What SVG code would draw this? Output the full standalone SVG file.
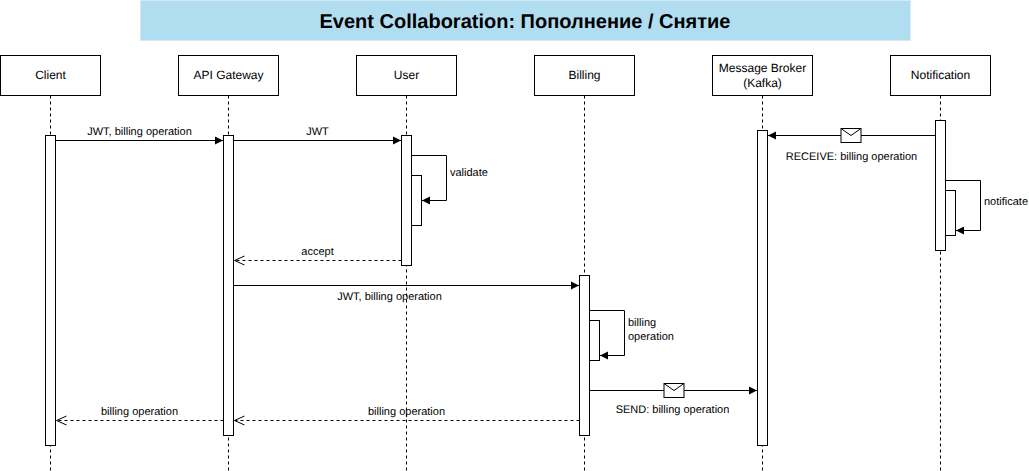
<svg xmlns="http://www.w3.org/2000/svg" width="1029" height="471" viewBox="0 0 1029 471">
<style>
text{font-family:"Liberation Sans",Arial,sans-serif;fill:#000;text-rendering:geometricPrecision}
.n{font-size:12px;text-anchor:middle}
.l{font-size:11px;text-anchor:middle}
.ls{font-size:11px;text-anchor:start}
.b{fill:#fff;stroke:#000;stroke-width:1}
.life{fill:none;stroke:#000;stroke-width:1;stroke-dasharray:3 3}
.m{fill:none;stroke:#000;stroke-width:1;marker-end:url(#block)}
.r{fill:none;stroke:#000;stroke-width:1;stroke-dasharray:3 3;marker-end:url(#open)}
.env{fill:#fff;stroke:#000;stroke-width:1}
</style>
<defs>
<marker id="block" markerUnits="userSpaceOnUse" viewBox="0 0 9 9" refX="9" refY="4.500" markerWidth="9" markerHeight="9" orient="auto"><path d="M0.500 0.500L8.500 4.500L0.500 8.500Z" fill="#000"/></marker>
<marker id="open" markerUnits="userSpaceOnUse" viewBox="0 0 13 12" refX="12" refY="6" markerWidth="13" markerHeight="12" orient="auto"><path d="M1 1.500L11 6L1 10.500" fill="none" stroke="#000" stroke-width="1"/></marker>
</defs>
<g id="title"><rect x="140.500" y="0.500" width="770" height="40" fill="#b1ddf0" stroke="#d4ebf6"/><text x="525" y="28" font-size="20" font-weight="bold" text-anchor="middle">Event Collaboration: Пополнение / Снятие</text></g>
<g id="lifelines">
<path class="life" d="M50.500 95.500V470.500"/><path class="life" d="M228.500 95.500V470.500"/><path class="life" d="M406.500 95.500V470.500"/><path class="life" d="M584.500 95.500V470.500"/><path class="life" d="M762.500 95.500V470.500"/><path class="life" d="M940.500 95.500V470.500"/>
</g>
<g id="client"><rect class="b" x="0.500" y="55.500" width="100" height="40"/><text class="n" x="50.500" y="79">Client</text><rect class="b" x="45.500" y="135.500" width="10" height="310"/></g>
<g id="api-gateway"><rect class="b" x="178.500" y="55.500" width="100" height="40"/><text class="n" x="228.500" y="79">API Gateway</text><rect class="b" x="223.500" y="135.500" width="10" height="300"/></g>
<g id="user"><rect class="b" x="356.500" y="55.500" width="100" height="40"/><text class="n" x="406.500" y="79">User</text><rect class="b" x="401.500" y="135.500" width="10" height="130"/><rect class="b" x="411.500" y="175.500" width="10" height="50"/></g>
<g id="billing"><rect class="b" x="534.500" y="55.500" width="100" height="40"/><text class="n" x="584.500" y="79">Billing</text><rect class="b" x="579.500" y="275.500" width="10" height="160"/><rect class="b" x="589.500" y="320.500" width="10" height="40"/></g>
<g id="message-broker"><rect class="b" x="712.500" y="55.500" width="100" height="40"/><text class="n" x="762.500" y="72">Message Broker</text><text class="n" x="762.500" y="87">(Kafka)</text><rect class="b" x="757.500" y="130.500" width="10" height="315"/></g>
<g id="notification"><rect class="b" x="890.500" y="55.500" width="100" height="40"/><text class="n" x="940.500" y="79">Notification</text><rect class="b" x="935.500" y="120.500" width="10" height="130"/><rect class="b" x="945.500" y="190.500" width="10" height="45"/></g>
<g id="connectors">
<path class="m" d="M55.500 140.500H223.500"/>
<path class="m" d="M233.500 140.500H401.500"/>
<path class="m" d="M411.500 155.500H446.500V200.500H421.500"/>
<path class="r" d="M401.500 260.500H233.500"/>
<path class="m" d="M233.500 285.500H579.500"/>
<path class="m" d="M589.500 310.500H624.500V355.500H599.500"/>
<path class="m" d="M589.500 390.500H757.500"/>
<path class="r" d="M579.500 420.500H233.500"/>
<path class="r" d="M223.500 420.500H55.500"/>
<path class="m" d="M935.500 135.500H767.500"/>
<path class="m" d="M945.500 180.500H980.500V230.500H955.500"/>
<g id="env1"><rect class="env" x="841" y="128.500" width="20" height="14"/><path class="env" style="fill:none" d="M841 128.500L851 135.500L861 128.500"/></g>
<g id="env2"><rect class="env" x="664" y="383.500" width="20" height="14"/><path class="env" style="fill:none" d="M664 383.500L674 390.500L684 383.500"/></g>
<text class="l" x="139.500" y="135">JWT, billing operation</text>
<text class="l" x="317.500" y="135">JWT</text>
<text class="ls" x="450" y="176">validate</text>
<text class="l" x="317.500" y="255">accept</text>
<text class="l" x="389.500" y="300">JWT, billing operation</text>
<text class="ls" x="628" y="326">billing</text>
<text class="ls" x="628" y="340">operation</text>
<text class="l" x="672.500" y="413">SEND: billing operation</text>
<text class="l" x="406.500" y="415">billing operation</text>
<text class="l" x="139.500" y="415">billing operation</text>
<text class="l" x="851.500" y="160">RECEIVE: billing operation</text>
<text class="ls" x="984" y="205">notificate</text>
</g>
</svg>
